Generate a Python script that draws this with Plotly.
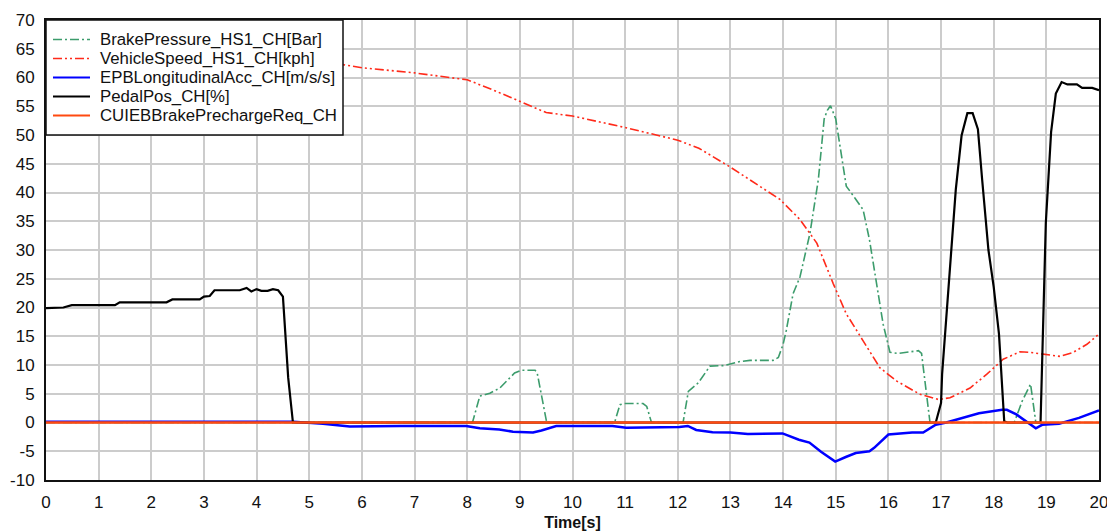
import plotly.graph_objects as go

# ---------------- data ----------------
brake_t = [0, 8.1, 8.24, 8.43, 8.62, 8.9, 9.03, 9.29, 9.33, 9.51, 10.8, 10.9, 10.98, 11.34, 11.41, 11.5,
           12.1, 12.2, 12.39, 12.61, 12.87, 13.18, 13.37, 13.81, 13.91, 14.0, 14.06, 14.19, 14.32, 14.51,
           14.67, 14.78, 14.84, 14.9, 15.0, 15.2, 15.36, 15.52, 15.64, 15.77, 15.9, 16.03, 16.19, 16.57,
           16.63, 16.79, 18.39, 18.54, 18.70, 18.8, 20]
brake_v = [0, 0, 4.6, 5.1, 6.0, 8.6, 9.1, 9.1, 8.6, 0, 0, 3.1, 3.3, 3.3, 2.8, 0,
           0, 5.4, 6.9, 9.8, 9.9, 10.6, 10.8, 10.8, 11.3, 13.6, 16.0, 22.4, 25.3, 32.9,
           42.3, 52.8, 54.3, 55.1, 52.8, 41.1, 39.1, 37.0, 31.8, 24.7, 17.1, 12.2, 12.0, 12.5,
           12.0, 0, 0, 3.7, 6.7, 0, 0]

speed_t = [0, 1, 2, 3, 4, 5, 5.6, 6, 7, 8, 8.5, 9, 9.5, 10, 11, 12, 12.4, 13, 13.5, 13.94, 14.32,
           14.64, 14.95, 15.2, 15.52, 15.84, 16.16, 16.6, 16.95, 17.17, 17.55, 17.87, 18.18, 18.5,
           18.69, 19.0, 19.26, 19.51, 19.77, 20]
speed_v = [66, 65.5, 65, 64.5, 63.8, 63, 62.3, 61.7, 60.8, 59.6, 57.8, 55.8, 53.9, 53.3, 51.3, 49.1,
           47.7, 44.4, 41.5, 38.8, 35.3, 31.2, 24.2, 18.9, 14.2, 9.5, 7.2, 4.9, 4.0, 4.3, 6.0, 8.4,
           11.0, 12.3, 12.2, 11.8, 11.5, 12.2, 13.6, 15.4]

acc_t = [0, 1, 2, 3, 4, 4.7, 5.26, 5.77, 6.72, 7.98, 8.24, 8.61, 8.87, 9.25, 9.41, 9.69, 10.0, 10.76,
         11.02, 11.5, 12.03, 12.19, 12.35, 12.66, 13.0, 13.33, 13.99, 14.3, 14.5, 14.72, 14.99, 15.19,
         15.38, 15.64, 15.73, 16.0, 16.45, 16.66, 16.9, 17.1, 17.72, 18.16, 18.25, 18.43, 18.8, 18.92,
         19.24, 19.62, 19.87, 20]
acc_v = [0.15, 0.15, 0.15, 0.15, 0.15, 0.15, -0.2, -0.7, -0.6, -0.6, -1.0, -1.2, -1.6, -1.75, -1.4, -0.6,
         -0.6, -0.6, -0.9, -0.9, -0.8, -0.6, -1.3, -1.7, -1.75, -2.0, -1.9, -3.0, -3.5, -5.1, -6.8,
         -6.0, -5.3, -5.0, -4.4, -2.1, -1.75, -1.75, -0.4, 0, 1.6, 2.2, 2.2, 1.4, -1.0, -0.4, -0.2,
         0.8, 1.6, 2.1]

pedal_t = [0, 0.33, 0.49, 1.31, 1.4, 2.29, 2.4, 2.92, 3.0, 3.11, 3.2, 3.68, 3.81, 3.9, 4.0, 4.09,
           4.21, 4.31, 4.41, 4.5, 4.6, 4.69, 16.9, 17.0, 17.02, 17.15, 17.28, 17.39, 17.5, 17.6, 17.7,
           17.78, 17.9, 18.0, 18.1, 18.2, 18.26, 18.89, 18.92, 18.99, 19.09, 19.18, 19.29, 19.4,
           19.58, 19.68, 19.87, 20]
pedal_v = [19.9, 20, 20.4, 20.4, 20.9, 20.9, 21.4, 21.4, 21.9, 22, 23, 23, 23.4, 22.8, 23.2, 22.9,
           22.9, 23.2, 23.0, 21.9, 7.8, 0, 0, 3.4, 8.4, 24.7, 40.5, 49.9, 53.8, 53.8, 51, 42.3, 30,
           23.6, 15.4, 0.2, 0, 0, 9.5, 34.7, 50.5, 57.2, 59.2, 58.8, 58.8, 58.2, 58.2, 57.8]

prech_t = [0, 20]
prech_v = [0, 0]

names = ["BrakePressure_HS1_CH[Bar]", "VehicleSpeed_HS1_CH[kph]", "EPBLongitudinalAcc_CH[m/s/s]",
         "PedalPos_CH[%]", "CUIEBBrakePrechargeReq_CH"]
colors = ["#3c9c6c", "#ff2a1a", "#0000ff", "#000000", "#ff4a10"]
widths = [1.6, 1.6, 2.5, 2.2, 2.4]
dashes = ["9px,3px,2px,3px", "9px,3px,2px,3px,2px,3px", "solid", "solid", "solid"]

x_ticks = list(range(0, 21))
y_ticks = list(range(-10, 71, 5))

series = [(brake_t, brake_v), (speed_t, speed_v), (acc_t, acc_v), (pedal_t, pedal_v), (prech_t, prech_v)]

# ---------------- figure ----------------
fig = go.Figure()
for (tx, vy), nm, c, w, d in zip(series, names, colors, widths, dashes):
    fig.add_trace(go.Scatter(x=tx, y=vy, mode="lines", name=nm, showlegend=False,
                             line=dict(color=c, width=w, dash=d)))

font = "Liberation Sans, Arial, sans-serif"

# Legend box (drawn manually to match the compact row spacing of the original)
W, H = 1053.0, 460.0          # plot area size in px
def px_x(p):
    return p / W
def px_y(p):
    return 1 - p / H

shapes = [dict(type="rect", xref="paper", yref="paper", x0=0, x1=px_x(297), y0=px_y(115), y1=1,
               fillcolor="white", line=dict(color="#111111", width=1.5), layer="above")]
annotations = []
row_y = [19.5, 38.5, 57.5, 76.5, 95.5]
for i, nm in enumerate(names):
    yy = px_y(row_y[i])
    shapes.append(dict(type="line", xref="paper", yref="paper", x0=px_x(7), x1=px_x(44), y0=yy, y1=yy,
                       line=dict(color=colors[i], width=min(widths[i], 2.2), dash=dashes[i]), layer="above"))
    annotations.append(dict(xref="paper", yref="paper", x=px_x(52), y=yy, xanchor="left", yanchor="middle",
                            text=nm, showarrow=False,
                            font=dict(family=font, size=16.8, color="#111111")))

# the page body adds an 8px margin, so the figure is sized/margined to compensate
fig.update_layout(
    width=1107, height=524,
    margin=dict(l=38, r=16, t=12, b=52, autoexpand=False),
    paper_bgcolor="white", plot_bgcolor="white",
    font=dict(family=font, color="#111111"),
    showlegend=False,
    shapes=shapes, annotations=annotations,
)
fig.update_xaxes(range=[0, 20], tickvals=x_ticks, ticktext=[str(v) for v in x_ticks],
                 showgrid=True, gridcolor="#cccccc", gridwidth=1.5, zeroline=False,
                 showline=True, linecolor="#111111", linewidth=2, mirror=True, automargin=False,
                 ticks="", tickfont=dict(size=17, family=font, color="#111111"),
                 ticklabelstandoff=6,
                 title=dict(text="<b>Time[s]</b>", font=dict(size=16, family=font, color="#111111"),
                            standoff=5))
fig.update_yaxes(range=[-10, 70], tickvals=y_ticks, ticktext=[str(v) for v in y_ticks],
                 showgrid=True, gridcolor="#cccccc", gridwidth=1.5, zeroline=False,
                 showline=True, linecolor="#111111", linewidth=2, mirror=True, automargin=False,
                 ticks="", tickfont=dict(size=17, family=font, color="#111111"),
                 ticklabelstandoff=6)

fig.write_html("out.html")
